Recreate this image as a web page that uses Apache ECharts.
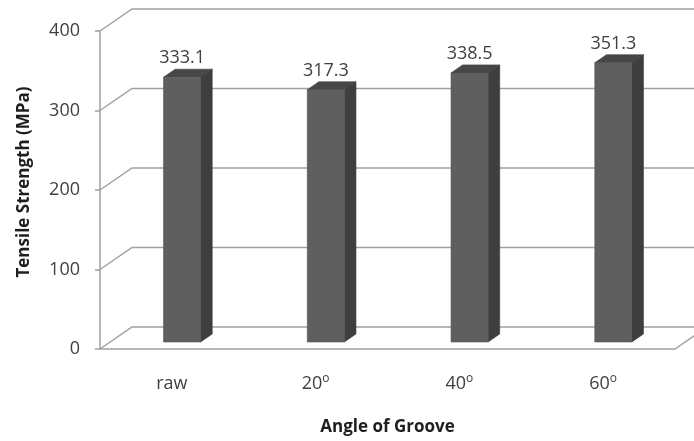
<!DOCTYPE html>
<html>
<head>
<meta charset="utf-8">
<script src="https://cdn.jsdelivr.net/npm/echarts@6/dist/echarts.min.js"></script>
<style>
  html, body { margin: 0; padding: 0; background: #fff; }
  #chart { width: 694px; height: 441px; }
</style>
</head>
<body>
<div id="chart"></div>
<script>
// Tensile strength by groove angle
const categories = ['raw', '20º', '40º', '60º'];
const strength = [333.1, 317.3, 338.5, 351.3];
const yTicks = [0, 100, 200, 300, 400];

// Perspective of the box: offset from the front plane to the back wall
const DEPTH_DX = 32, DEPTH_DY = -22;
// Bars sit in the middle of the depth
const BAR_FX = 10.2, BAR_FY = -7;
const BAR_DX = 11.6, BAR_DY = -8;
const BAR_WIDTH_RATIO = 0.258;

const FONT = '"Open Sans", "Liberation Sans", sans-serif';
const LINE_COLOR = '#a0a0a0';

const chart = echarts.init(document.getElementById('chart'), null, { renderer: 'canvas' });

function renderWalls(params, api) {
  const v = api.value(1);
  const cs = params.coordSys;
  const y = api.coord([0, v])[1];
  const left = cs.x, right = cs.x + cs.width;
  const farX = api.getWidth() + 10;
  const children = [{
    type: 'polyline',
    shape: { points: [[left, y], [left + DEPTH_DX, y + DEPTH_DY], [farX, y + DEPTH_DY]] },
    style: { stroke: LINE_COLOR, lineWidth: 1.5, fill: null }
  }];
  if (v === 0) {
    children.push({
      type: 'polyline',
      shape: { points: [[left, y], [right, y], [right + DEPTH_DX, y + DEPTH_DY]] },
      style: { stroke: LINE_COLOR, lineWidth: 1.5, fill: null }
    });
  }
  return { type: 'group', children };
}

function renderBar(params, api) {
  const i = api.value(0);
  const v = api.value(1);
  const base = api.coord([i, 0]);
  const top = api.coord([i, v]);
  const band = api.size([1, 0])[0];
  const w = band * BAR_WIDTH_RATIO;
  const cx = base[0] + BAR_FX;
  const x0 = cx - w / 2, x1 = cx + w / 2;
  const yb = base[1] + BAR_FY, yt = top[1] + BAR_FY;
  return {
    type: 'group',
    children: [
      {
        type: 'polygon',
        shape: { points: [[x1, yt], [x1 + BAR_DX, yt + BAR_DY], [x1 + BAR_DX, yb + BAR_DY], [x1, yb]] },
        style: { fill: '#3e3e3e', stroke: '#3a3a3a', lineWidth: 0.6 }
      },
      {
        type: 'polygon',
        shape: { points: [[x0, yt], [x0 + BAR_DX, yt + BAR_DY], [x1 + BAR_DX, yt + BAR_DY], [x1, yt]] },
        style: { fill: '#474747', stroke: '#404040', lineWidth: 0.6 }
      },
      {
        type: 'rect',
        shape: { x: x0, y: yt, width: w, height: yb - yt },
        style: { fill: '#5f5f5f', stroke: '#555555', lineWidth: 0.6 }
      },
      {
        type: 'text',
        x: cx, y: yt - 19,
        style: {
          text: v.toFixed(1),
          fontFamily: FONT, fontSize: 18, fill: '#404040',
          align: 'center', verticalAlign: 'middle'
        }
      }
    ]
  };
}

chart.setOption({
  animation: false,
  backgroundColor: '#ffffff',
  grid: { left: 100, right: 19, top: 31, bottom: 91, containLabel: false },
  xAxis: {
    type: 'category',
    data: categories,
    axisLine: { show: false },
    axisTick: { show: false },
    axisLabel: {
      margin: 24,
      interval: 0,
      formatter: function (s) {
        if (s.indexOf('º') >= 0) return '{n|' + s.replace('º', '') + '}{sup|o}';
        return '{n|' + s + '}';
      },
      rich: {
        n: { fontFamily: FONT, fontSize: 18, color: '#404040', lineHeight: 22 },
        sup: { fontFamily: FONT, fontSize: 12, color: '#404040', lineHeight: 12, verticalAlign: 'top' }
      }
    },
    name: 'Angle of Groove',
    nameLocation: 'middle',
    nameGap: 70,
    nameTextStyle: { fontFamily: FONT, fontSize: 17, fontWeight: 'bold', color: '#1e1e1e' }
  },
  yAxis: {
    type: 'value',
    min: 0, max: 400, interval: 100,
    axisLine: { show: true, lineStyle: { color: LINE_COLOR, width: 1.5 } },
    axisTick: { show: true, length: 5, lineStyle: { color: LINE_COLOR, width: 1.5 } },
    splitLine: { show: false },
    axisLabel: { margin: 20, fontFamily: FONT, fontSize: 18, color: '#404040' },
    name: 'Tensile Strength (MPa)',
    nameLocation: 'middle',
    nameGap: 67,
    nameRotate: 90,
    nameTextStyle: {
      fontFamily: FONT, fontSize: 17, fontWeight: 'bold', color: '#1e1e1e',
      padding: [0, 0, 0, 16]
    }
  },
  series: [
    {
      type: 'custom',
      name: 'walls',
      silent: true,
      z: 1,
      data: yTicks.map(v => [0, v]),
      renderItem: renderWalls
    },
    {
      type: 'custom',
      name: 'Tensile Strength',
      z: 3,
      data: strength.map((v, i) => [i, v]),
      renderItem: renderBar
    }
  ]
});
</script>
</body>
</html>
